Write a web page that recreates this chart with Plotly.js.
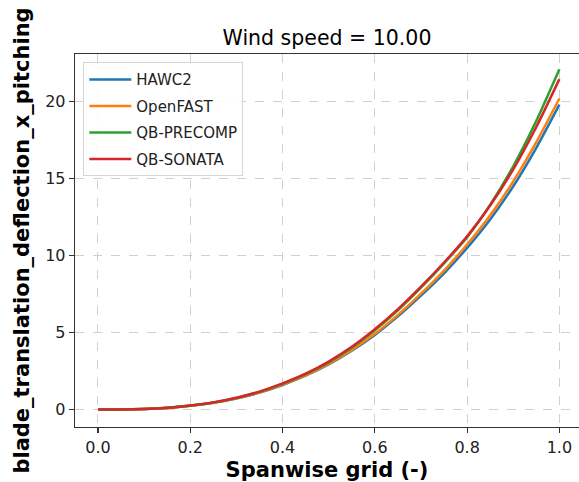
<!DOCTYPE html>
<html>
<head>
<meta charset="utf-8">
<script src="https://cdn.plot.ly/plotly-3.0.1.min.js"></script>
<style>html,body{margin:0;padding:0;background:#fff;}#chart{width:579px;height:482px;}</style>
</head>
<body>
<div id="chart"></div>
<script>
const spanwise = [0, 0.05, 0.1, 0.15, 0.2, 0.25, 0.3, 0.35, 0.4, 0.45, 0.5, 0.55, 0.6, 0.65, 0.7, 0.75, 0.8, 0.85, 0.9, 0.95, 1.0];
const hawc2     = [0, 0.007, 0.04, 0.11, 0.25, 0.44, 0.72, 1.10, 1.60, 2.20, 2.93, 3.82, 4.85, 6.05, 7.40, 8.85, 10.50, 12.35, 14.50, 17.00, 19.80];
const openfast  = [0, 0.007, 0.04, 0.11, 0.25, 0.45, 0.73, 1.11, 1.62, 2.23, 2.97, 3.87, 4.92, 6.15, 7.53, 9.03, 10.72, 12.62, 14.82, 17.37, 20.20];
const qbPrecomp = [0, 0.007, 0.04, 0.12, 0.26, 0.46, 0.76, 1.15, 1.67, 2.30, 3.07, 4.02, 5.15, 6.45, 7.92, 9.50, 11.20, 13.30, 15.80, 18.75, 22.10];
const qbSonata  = [0, 0.007, 0.04, 0.12, 0.27, 0.47, 0.77, 1.17, 1.70, 2.33, 3.12, 4.08, 5.22, 6.52, 7.98, 9.55, 11.25, 13.25, 15.60, 18.35, 21.46];
const seriesNames = ["HAWC2", "OpenFAST", "QB-PRECOMP", "QB-SONATA"];
const seriesColors = ["#1f77b4", "#ff7f0e", "#2ca02c", "#d62728"];
const seriesValues = [hawc2, openfast, qbPrecomp, qbSonata];
const xTicks = [0, 0.2, 0.4, 0.6, 0.8, 1.0];
const xTickText = ["0.0", "0.2", "0.4", "0.6", "0.8", "1.0"];
const yTicks = [0, 5, 10, 15, 20];

const traces = seriesValues.map((v, i) => ({
  x: spanwise, y: v, type: "scatter", mode: "lines",
  name: seriesNames[i], legendgroup: "g" + i,
  line: {color: seriesColors[i], width: 2.5, shape: "spline", smoothing: 0.6}
}));

const font = "DejaVu Sans, sans-serif";
const layout = {
  width: 579, height: 482,
  margin: {l: 75, r: 0, t: 54, b: 54.5},
  paper_bgcolor: "#fff", plot_bgcolor: "#fff",
  font: {family: font, color: "#000"},
  title: {text: "Wind speed = 10.00", font: {family: font, size: 20.5, color: "#000"}, x: 0.5, xanchor: "center", y: 1 - 38/482, yanchor: "middle", xref: "paper"},
  xaxis: {
    range: [-0.0498, 1.0425], tickvals: xTicks, ticktext: xTickText,
    showgrid: true, gridcolor: "#d0d0d0", griddash: "dash", gridwidth: 1,
    zeroline: false, showline: true, linecolor: "#333", linewidth: 1.3, mirror: true,
    ticks: "outside", ticklen: 5, tickwidth: 1.2, tickcolor: "#333",
    tickfont: {family: font, size: 16, color: "#222"},
    title: {text: "Spanwise grid (-)", font: {family: font, size: 21, color: "#000", weight: "bold"}, standoff: 6}
  },
  yaxis: {
    range: [-1.13, 23.09], tickvals: yTicks,
    showgrid: true, gridcolor: "#d0d0d0", griddash: "dash", gridwidth: 1,
    zeroline: false, showline: true, linecolor: "#333", linewidth: 1.3, mirror: false,
    ticks: "outside", ticklen: 5, tickwidth: 1.2, tickcolor: "#333",
    tickfont: {family: font, size: 16, color: "#222"},
    title: {text: "blade_translation_deflection_x_pitching", font: {family: font, size: 21, color: "#000", weight: "bold"}, standoff: 9}
  },
  legend: {
    x: 0.0165, y: 0.978, xanchor: "left", yanchor: "top",
    bgcolor: "rgba(255,255,255,0.85)", bordercolor: "#d5d5d5", borderwidth: 1,
    itemwidth: 42, tracegroupgap: 4,
    font: {family: font, size: 15, color: "#222"}
  },
  showlegend: true
};
Plotly.newPlot("chart", traces, layout, {displayModeBar: false, staticPlot: true});
</script>
</body>
</html>
